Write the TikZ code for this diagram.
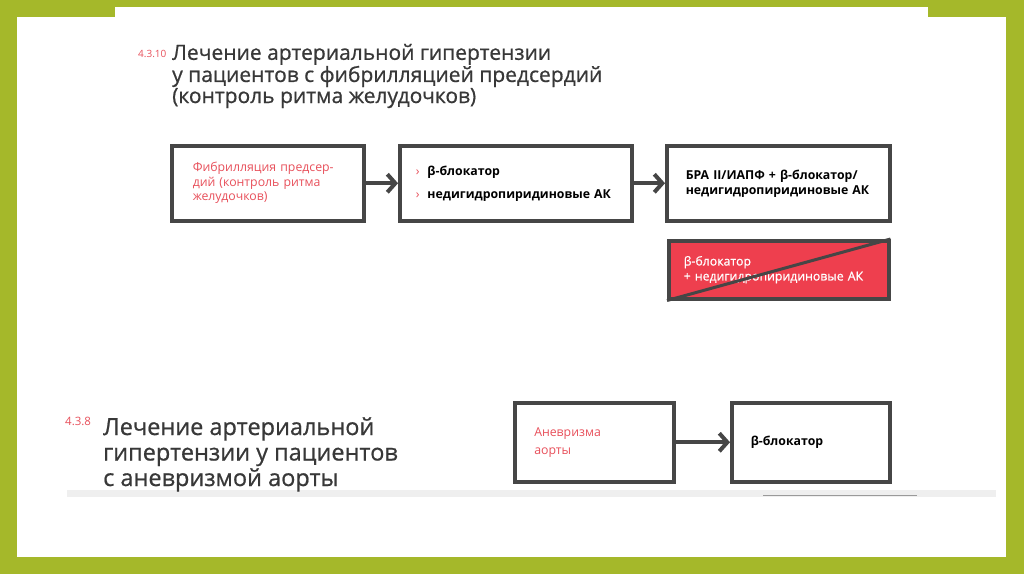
\documentclass[tikz,border=0pt]{standalone}
\usepackage{fontspec}
\setmainfont{Open Sans}
\newfontfamily\titlefont{Open Sans}[FakeBold=0.7]
\usetikzlibrary{arrows.meta}
\definecolor{bggreen}{HTML}{A5B82A}
\definecolor{boxgray}{HTML}{464646}
\definecolor{titlegray}{HTML}{383838}
\definecolor{redtext}{HTML}{E8505B}
\definecolor{redfill}{HTML}{EE3F4E}
\definecolor{bandgray}{HTML}{EFEFEF}
\definecolor{linegray}{HTML}{9A9A9A}
\tikzset{
  box/.style={draw=boxgray, line width=3.5pt, anchor=north west, inner xsep=21pt, align=left, font=\fontsize{12.3}{14.5}\selectfont},
  flowarrow/.style={draw=boxgray, line width=4pt, -{Straight Barb[length=8pt,width=18pt,line width=4pt]}},
  titleA/.style={anchor=base west, inner sep=0pt, align=left, text=titlegray, font=\titlefont\fontsize{21}{20}\selectfont},
  titleB/.style={anchor=base west, inner sep=0pt, align=left, text=titlegray, font=\titlefont\fontsize{23.5}{25.5}\selectfont},
  secnum/.style={anchor=north west, inner sep=0pt, text=redtext}
}
\begin{document}
\begin{tikzpicture}[x=1pt,y=-1pt]
\useasboundingbox (0,0) rectangle (1024,574);
\fill[bggreen] (0,0) rectangle (1024,574);
\fill[white] (17,17) rectangle (1006,557);
\fill[white] (115,7) rectangle (928,17);
\fill[bandgray] (67,490) rectangle (996,497);
\draw[linegray, line width=1.2pt] (763,495.5) -- (917,495.5);

% Section 4.3.10
\node[secnum, font=\fontsize{10}{11}\selectfont] (n1) at (138,50) {4.3.10};
\node[titleA] (t1) at (172,103) {Лечение артериальной гипертензии\\у пациентов с фибрилляцией предсердий\\(контроль ритма желудочков)};

\node[box, minimum width=192pt, minimum height=75pt, text width=150pt, text=redtext] (a) at (170,144)
  {Фибрилляция предсер-\\дий (контроль ритма\\желудочков)};
\node[box, minimum width=232pt, minimum height=75pt, text width=200pt, inner xsep=16pt, font=\bfseries\fontsize{12.3}{23}\selectfont] (b) at (398,144)
  {\textcolor{redtext}{\mdseries ›}\hspace{8pt}β-блокатор\\\textcolor{redtext}{\mdseries ›}\hspace{8pt}недигидропиридиновые АК};
\node[box, minimum width=218pt, minimum height=75pt, text width=185pt, inner xsep=19pt, font=\bfseries\fontsize{12.3}{15}\selectfont] (c) at (665,144)
  {БРА II/ИАПФ + β-блокатор/\\недигидропиридиновые АК};
\node[box, fill=redfill, minimum width=217pt, minimum height=58pt, text width=190pt, inner xsep=15pt, text=white, font=\titlefont\fontsize{12.3}{15}\selectfont] (d) at (667,239)
  {β-блокатор\\+ недигидропиридиновые АК};
\draw[boxgray, line width=3pt] (d.south west) -- (d.north east);

\draw[flowarrow] (a.east) -- (b.west);
\draw[flowarrow] (b.east) -- (c.west);

% Section 4.3.8
\node[secnum, font=\fontsize{11.5}{12}\selectfont] (n2) at (65,417) {4.3.8};
\node[titleB] (t2) at (103,486) {Лечение артериальной\\гипертензии у пациентов\\с аневризмой аорты};

\node[box, minimum width=159pt, minimum height=79pt, text width=120pt, inner xsep=15pt, text=redtext, font=\fontsize{12.3}{18}\selectfont] (e) at (513,401)
  {Аневризма\\аорты};
\node[box, minimum width=158pt, minimum height=79pt, text width=120pt, inner xsep=17pt, font=\bfseries\fontsize{12.3}{15}\selectfont] (f) at (730,401)
  {β-блокатор};
\draw[flowarrow] (e.east) -- (f.west);
\end{tikzpicture}
\end{document}
